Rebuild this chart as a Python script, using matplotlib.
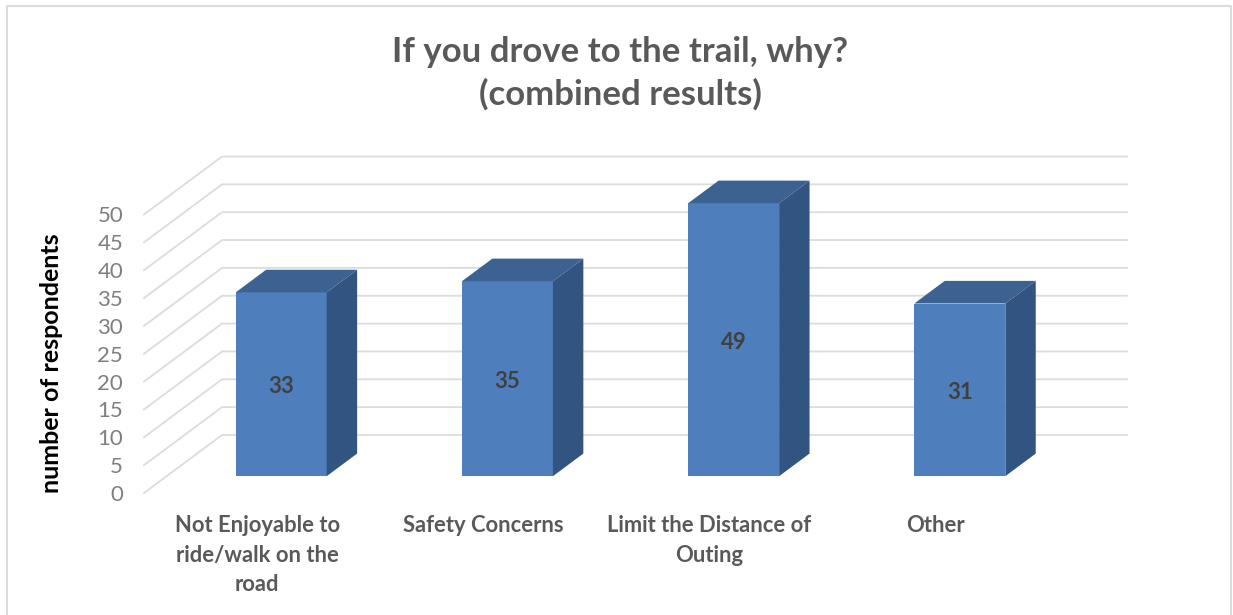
import numpy as np
from matplotlib import pyplot as plt
from matplotlib.lines import Line2D

categories = ['Not Enjoyable to\nride/walk on the\nroad', 'Safety Concerns',
              'Limit the Distance of\nOuting', 'Other']
values = [33, 35, 49, 31]
y_ticks = [0, 5, 10, 15, 20, 25, 30, 35, 40, 45, 50]

plt.rcParams['font.family'] = ['Lato', 'DejaVu Sans']

W, H = 1233, 615
GRID = '#dcdcdc'
FRONT, TOP, SIDE = '#4e7fbc', '#3c6291', '#325480'

# pixels per data unit, the 3d look is just offsets on a 2d axes
PX_X, PX_Y = 226.2, 5.57
DEPTH_X, DEPTH_Y = 78 / PX_X, 58 / PX_Y
BAR_W = 91 / PX_X
BAR_START = 0.29   # where the bar sits along the floor depth
BAR_DEPTH = 0.39


def draw_bar(ax, center, value):
    x0 = center - BAR_W / 2 + BAR_START * DEPTH_X + 1.5 / PX_X
    x1 = x0 + BAR_W
    y0 = BAR_START * DEPTH_Y
    y1 = y0 + value
    dx = BAR_DEPTH * DEPTH_X
    dy = BAR_DEPTH * DEPTH_Y
    ax.fill([x0, x1, x1, x0], [y0, y0, y1, y1], color=FRONT, lw=0, zorder=3, clip_on=False)
    ax.fill([x0, x1, x1 + dx, x0 + dx], [y1, y1, y1 + dy, y1 + dy], color=TOP, lw=0, zorder=3, clip_on=False)
    ax.fill([x1, x1 + dx, x1 + dx, x1], [y0, y0 + dy, y1 + dy, y1], color=SIDE, lw=0, zorder=3, clip_on=False)
    ax.annotate(str(value), ((x0 + x1) / 2, (y0 + y1) / 2), xytext=(0, -1.8), textcoords='offset points',
                ha='center', va='center', fontsize=16, fontweight='bold', color='#404040', zorder=4)


def main():
    fig = plt.figure(figsize=(W / 100, H / 100), dpi=100)
    ax = fig.add_axes([144 / W, (H - 493) / H, 983 / W, 337 / H])
    ax.set_xlim(0, 983 / PX_X)
    ax.set_ylim(0, 337 / PX_Y)
    for s in ax.spines.values():
        s.set_visible(False)

    for v in y_ticks:
        ax.plot([0, DEPTH_X, 983 / PX_X], [v, v + DEPTH_Y, v + DEPTH_Y],
                color=GRID, lw=1.3, zorder=1, clip_on=False)

    centers = np.arange(len(categories)) + 0.5
    for c, v in zip(centers, values):
        draw_bar(ax, c, v)

    ax.set_yticks(y_ticks)
    ax.set_xticks(centers)
    ax.set_xticklabels(categories, fontsize=15.8, fontweight='bold', color='#595959', linespacing=1.5)
    ax.tick_params(axis='x', length=0, pad=16)
    ax.tick_params(axis='y', length=0, pad=15, labelsize=16, labelcolor='#7f7f7f')

    fig.text(52 / W, 1 - 363 / H, 'number of respondents', rotation=90, ha='center', va='center',
             fontsize=18, fontweight='bold', color='black')
    fig.text(620 / W, 1 - 73 / H, 'If you drove to the trail, why?\n(combined results)', ha='center',
             va='center', fontsize=25, fontweight='bold', color='#595959', linespacing=1.36)

    # chart frame, runs off the bottom of the picture
    fig.add_artist(Line2D([7 / W, 7 / W, 1231 / W, 1231 / W], [0, 1 - 6 / H, 1 - 6 / H, 0],
                          color=GRID, lw=1.5, transform=fig.transFigure))

    fig.savefig('out.png', dpi=100)


if __name__ == "__main__":
    main()
